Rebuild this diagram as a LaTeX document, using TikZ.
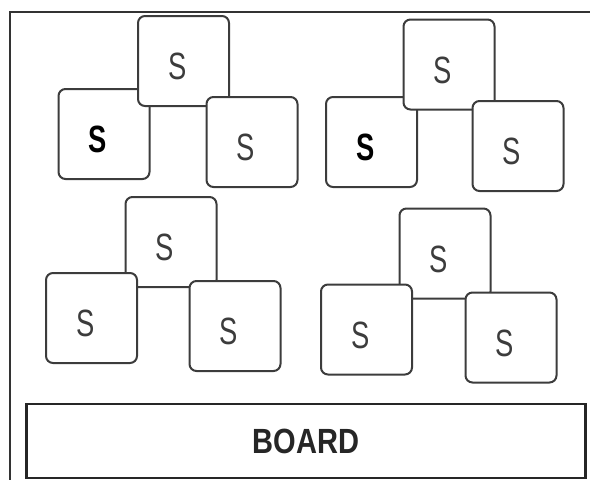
\documentclass[tikz,border=0pt]{standalone}
\usepackage{fontspec}
\setmainfont{Liberation Sans}
\newfontfamily\seatfont[FakeStretch=0.72]{Liberation Sans}
\newfontfamily\boardfont[FakeStretch=0.83]{Liberation Sans}
\usepackage{tikz}
\usetikzlibrary{positioning}
\definecolor{inkgray}{HTML}{3C3C3C}
% letter sits a little left of and below the middle of its seat
\newcommand{\offS}[1]{\raisebox{-18.5pt}[0pt][0pt]{\makebox[0pt]{#1\hspace*{12pt}}}}

\begin{document}
\begin{tikzpicture}[x=1pt,y=-1pt,every node/.style={inner sep=0pt}]
  \tikzstyle{Seat}=[draw=inkgray, line width=2pt, fill=white, rounded corners=7pt,
    minimum width=91pt, minimum height=90pt, font=\seatfont\fontsize{38}{38}\selectfont, text=inkgray]
  \tikzstyle{BoldSeat}=[Seat, font=\seatfont\bfseries\fontsize{38}{38}\selectfont, text=black]
  \tikzstyle{Board}=[draw=black!85, line width=2.6pt, minimum width=559pt, minimum height=74pt,
    font=\boardfont\bfseries\fontsize{35}{35}\selectfont, text=black!85]
  \useasboundingbox (0,0) rectangle (590,480);

  % classroom frame
  \draw[draw=black!80, line width=2.2pt] (592,12) -| (10,482);

  % group 1
  \node[BoldSeat] (a1) at (104,134) {\offS{S}};
  \node[Seat] (a2) at (183.5,61) {\offS{S}};
  \node[Seat] (a3) at (252,142) {\offS{S}};

  % group 2
  \node[BoldSeat] (b1) at (371.5,142) {\offS{S}};
  \node[Seat] (b2) at (449,64.5) {\offS{S}};
  \node[Seat] (b3) at (518,146) {\offS{S}};

  % group 3
  \node[Seat] (c2) at (171,242) {\offS{S}};
  \node[Seat] (c1) at (91.5,318) {\offS{S}};
  \node[Seat] (c3) at (235,326) {\offS{S}};

  % group 4
  \node[Seat] (d2) at (445,253.5) {\offS{S}};
  \node[Seat] (d1) at (366.5,329.5) {\offS{S}};
  \node[Seat] (d3) at (511,337.5) {\offS{S}};

  \node[Board] (board) at (306,441) {BOARD};
\end{tikzpicture}
\end{document}
